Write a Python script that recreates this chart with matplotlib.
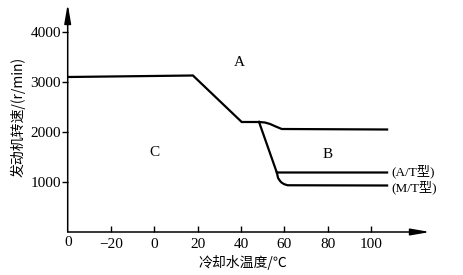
import matplotlib.pyplot as plt

# 数据（冷却水温度 °C, 发动机转速 r/min）
main_x = [-40, 17.8, 40.3, 48.3]
main_y = [3100, 3130, 2200, 2200]
upper_x = [48.3, 51, 53.4, 56, 58.8, 107.4]
upper_y = [2200, 2190, 2160, 2110, 2060, 2050]
at_x = [48.3, 56.5, 107.4]
at_y = [2200, 1190, 1190]
mt_x = [56.5, 57.1, 58.0, 58.8, 60.0, 61.5, 107.4]
mt_y = [1190, 1080, 1020, 985, 955, 935, 930]

xticks = [-20, 0, 20, 40, 60, 80, 100]
xtick_labels = ['\u221220', '0', '20', '40', '60', '80', '100']
yticks = [1000, 2000, 3000, 4000]

serif = ['Liberation Serif', 'Noto Sans CJK SC']
cjk = ['Noto Sans CJK SC', 'DejaVu Sans']

fig = plt.figure(figsize=(4.64, 2.75), dpi=100)
ax = fig.add_axes([67.7 / 464, 43 / 275, (430 - 67.7) / 464, (232 - 4) / 275])

lw = 1.6
ax.plot(main_x, main_y, color='black', lw=lw, solid_joinstyle='miter')
ax.plot(upper_x, upper_y, color='black', lw=lw)
ax.plot(at_x, at_y, color='black', lw=lw, solid_joinstyle='miter')
ax.plot(mt_x, mt_y, color='black', lw=lw)

ax.set_xlim(-40, 127.2)
ax.set_ylim(0, 4560)

for s in ax.spines.values():
    s.set_visible(False)

# 坐标轴箭头
arrow = dict(arrowstyle='-|>,head_length=1.15,head_width=0.2', color='black',
             lw=1.1, shrinkA=0, shrinkB=0, mutation_scale=10)
ax.annotate('', xy=(0, 1), xytext=(0, 0), xycoords='axes fraction', arrowprops=arrow)
ax.annotate('', xy=(1, 0), xytext=(0, 0), xycoords='axes fraction', arrowprops=arrow)

ax.set_xticks(xticks)
ax.set_xticklabels(xtick_labels)
ax.set_yticks(yticks)
ax.set_yticklabels([str(v) for v in yticks])
ax.tick_params(axis='x', direction='in', length=4, width=1, pad=4, labelsize=11)
ax.tick_params(axis='y', direction='out', length=4, width=1, pad=1, labelsize=11)
for lab in ax.get_xticklabels() + ax.get_yticklabels():
    lab.set_family(serif)

# 原点 0
ax.text(-40, -90, '0', ha='center', va='top', fontsize=11, family=serif)

# 区域标注
ax.text(39, 3400, 'A', ha='center', va='center', fontsize=11, family=serif)
ax.text(80, 1560, 'B', ha='center', va='center', fontsize=11, family=serif)
ax.text(0, 1600, 'C', ha='center', va='center', fontsize=11, family=serif)
ax.text(109.2, 1210, '(A/T型)', ha='left', va='center', fontsize=9.5, family=serif)
ax.text(109.2, 900, '(M/T型)', ha='left', va='center', fontsize=9.5, family=serif)

fig.text(243 / 464, 1 - 262 / 275, '冷却水温度/℃', ha='center', va='center',
         fontsize=10, family=cjk)
fig.text(18 / 464, 1 - 117 / 275, '发动机转速/(r/min)', ha='center', va='center',
         rotation=90, fontsize=10, family=cjk)

fig.savefig('out.png', dpi=100)
